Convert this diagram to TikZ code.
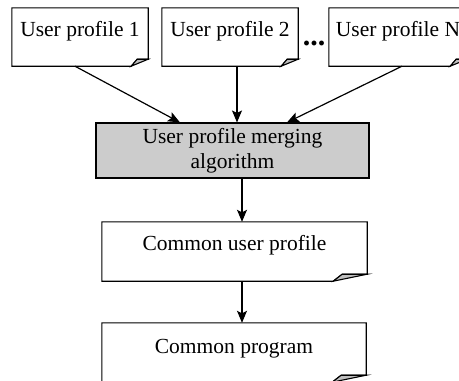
\documentclass[tikz,border=0pt]{standalone}
\usepackage{fontspec}
\setmainfont{Liberation Serif}
\usetikzlibrary{arrows.meta}
\tikzset{
  docline/.style={line width=1.1pt, line join=miter},
  doc/.style={draw=none, inner sep=0pt, text height=28pt, text depth=30pt,
    font=\fontsize{21.5}{25}\selectfont},
  algbox/.style={draw, line width=1.1pt, fill=black!20, inner sep=0pt, align=center,
    minimum width=273pt, minimum height=55pt, font=\fontsize{21.5}{25.5}\selectfont},
  arr/.style={line width=1.2pt, -{Stealth[length=12pt,width=10pt,inset=2.5pt]}},
}
\newcommand\docfold[3]{%
  \draw[docline] (#1.north west) -- (#1.north east) -- ([yshift=7]#1.south east)
     -- ([xshift=-#2+#3,yshift=7]#1.south east) -- ([xshift=-#2]#1.south east)
     -- (#1.south west) -- cycle;
  \filldraw[docline, fill=black!25] ([xshift=-#2]#1.south east)
     -- ([xshift=-#2+#3,yshift=7]#1.south east) -- ([yshift=7]#1.south east) -- cycle;
}
\begin{document}
\begin{tikzpicture}[x=1pt,y=-1pt]
\useasboundingbox (0,0) rectangle (459,381);
\clip (0,0) rectangle (459,381);
\node[doc, minimum width=136pt, anchor=base] (p1) at (80,36) {User profile 1};
\node[doc, minimum width=136pt, anchor=base] (p2) at (230,36) {User profile 2};
\node[doc, minimum width=138pt, anchor=base] (pN) at (398,36) {User profile N};
\node[font=\fontsize{30}{30}\selectfont\bfseries, inner sep=0pt, anchor=base] (dots) at (314,45) {...};
\node[algbox] (merge) at (232.5,150.5) {User profile merging\\algorithm};
\node[doc, minimum width=265pt, anchor=base, text depth=31pt] (cup) at (234.5,250) {Common user profile};
\node[doc, minimum width=264pt, anchor=base, text height=30pt, text depth=29pt] (cp) at (234,353) {Common program};
\docfold{p1}{17}{6}
\docfold{p2}{17}{6}
\docfold{pN}{17}{6}
\docfold{cup}{34}{9}
\docfold{cp}{34}{9}
\draw[arr] ([xshift=-5]p1.south) -- ([xshift=-52.5]merge.north);
\draw[arr] ([xshift=7]p2.south) -- ([xshift=7]p2.south |- merge.north);
\draw[arr] ([xshift=4]pN.south) -- ([xshift=54.5]merge.north);
\draw[arr] ([xshift=9.5]merge.south) -- ([xshift=9.5]merge.south |- cup.north);
\draw[arr] ([xshift=7.5]cup.south) -- ([xshift=7.5]cup.south |- cp.north);
\end{tikzpicture}
\end{document}
